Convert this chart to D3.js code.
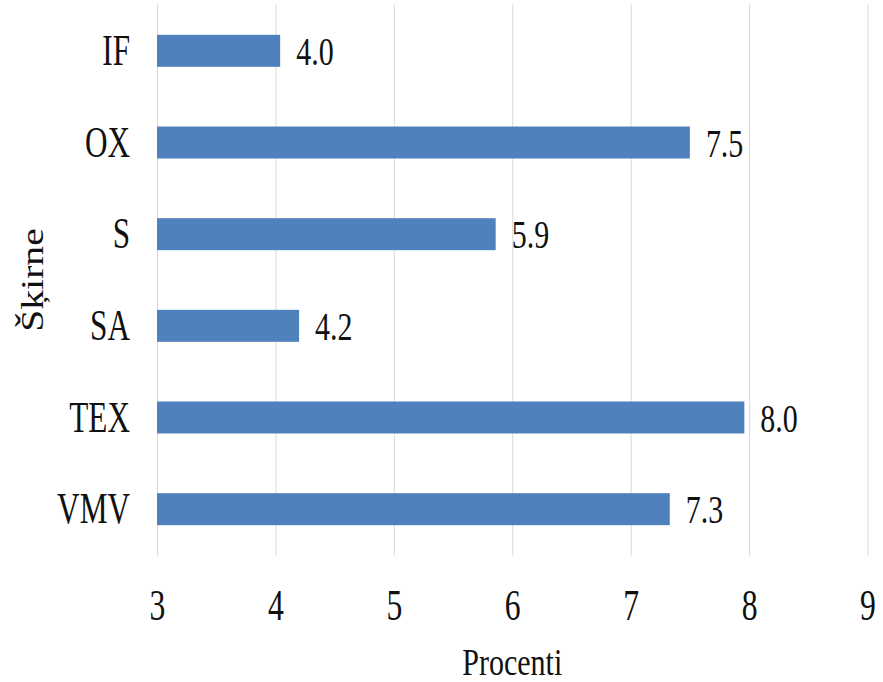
<!DOCTYPE html>
<html>
<head>
<meta charset="utf-8">
<script src="https://cdn.jsdelivr.net/npm/d3@7"></script>
<style>
  html, body { margin: 0; padding: 0; background: #fff; }
  svg { display: block; }
</style>
</head>
<body>
<svg id="chart" width="883" height="682"></svg>
<script>
// Varieties and their share, %
const categories = ["IF", "OX", "S", "SA", "TEX", "VMV"];
const values = [4.04, 7.5, 5.86, 4.2, 7.96, 7.33];
const xTicks = [3, 4, 5, 6, 7, 8, 9];
const xTitle = "Procenti";
const yTitle = "Šķirne";

const FONT = '"Liberation Serif", "Times New Roman", serif';
const INK = "#111";

const svg = d3.select("#chart");
const plotLeft = 157, plotRight = 867.5, plotTop = 5, plotBottom = 555;

const x = d3.scaleLinear().domain([3, 9]).range([plotLeft, plotRight]);
const y = d3.scaleBand().domain(categories).range([plotTop, plotBottom])
  .paddingInner(0.651).paddingOuter(0.3255);

// vertical gridlines
const grid = svg.append("g")
  .attr("transform", `translate(0,${plotBottom + 1})`)
  .call(d3.axisBottom(x).tickValues(xTicks).tickSize(-(plotBottom - 3)).tickFormat(""));
grid.select(".domain").remove();
grid.selectAll(".tick line").attr("stroke", "#d9d9d9").attr("stroke-width", 1);

// bars
svg.append("g").selectAll("rect")
  .data(categories)
  .join("rect")
  .attr("x", x(3))
  .attr("y", (d) => y(d))
  .attr("width", (d, i) => x(values[i]) - x(3))
  .attr("height", y.bandwidth())
  .attr("fill", "#4f81bd");

// value labels
svg.append("g").selectAll("text")
  .data(categories)
  .join("text")
  .attr("transform", (d, i) =>
    `translate(${x(values[i]) + 16},${y(d) + y.bandwidth() / 2 + 14}) scale(0.75,1)`)
  .style("font-family", FONT)
  .style("font-size", "40px")
  .attr("fill", INK)
  .text((d, i) => values[i].toFixed(1));

// x axis labels
const xa = svg.append("g")
  .attr("transform", `translate(0,${plotBottom + 1})`)
  .call(d3.axisBottom(x).tickValues(xTicks).tickSize(0).tickFormat(d3.format("d")));
xa.select(".domain").remove();
xa.selectAll(".tick text")
  .attr("y", 0).attr("dy", 0)
  .style("font-family", FONT)
  .style("font-size", "44px")
  .attr("fill", INK)
  .attr("transform", "translate(0,64) scale(0.72,1)");

// y axis labels
const ya = svg.append("g")
  .attr("transform", `translate(${plotLeft},0)`)
  .call(d3.axisLeft(y).tickSize(0));
ya.select(".domain").remove();
ya.selectAll(".tick text")
  .attr("x", 0).attr("dy", 0)
  .style("font-family", FONT)
  .style("font-size", "44px")
  .attr("fill", INK)
  .attr("transform", "translate(-27,14) scale(0.71,1)");

// axis titles
svg.append("text")
  .attr("text-anchor", "middle")
  .style("font-family", FONT)
  .style("font-size", "38px")
  .attr("fill", INK)
  .attr("transform", `translate(${(plotLeft + plotRight) / 2},675) scale(0.79,1)`)
  .text(xTitle);

svg.append("text")
  .attr("text-anchor", "middle")
  .style("font-family", FONT)
  .style("font-size", "31px")
  .attr("fill", INK)
  .attr("transform", "translate(43,280) rotate(-90) scale(1.28,1)")
  .text(yTitle);
</script>
</body>
</html>
